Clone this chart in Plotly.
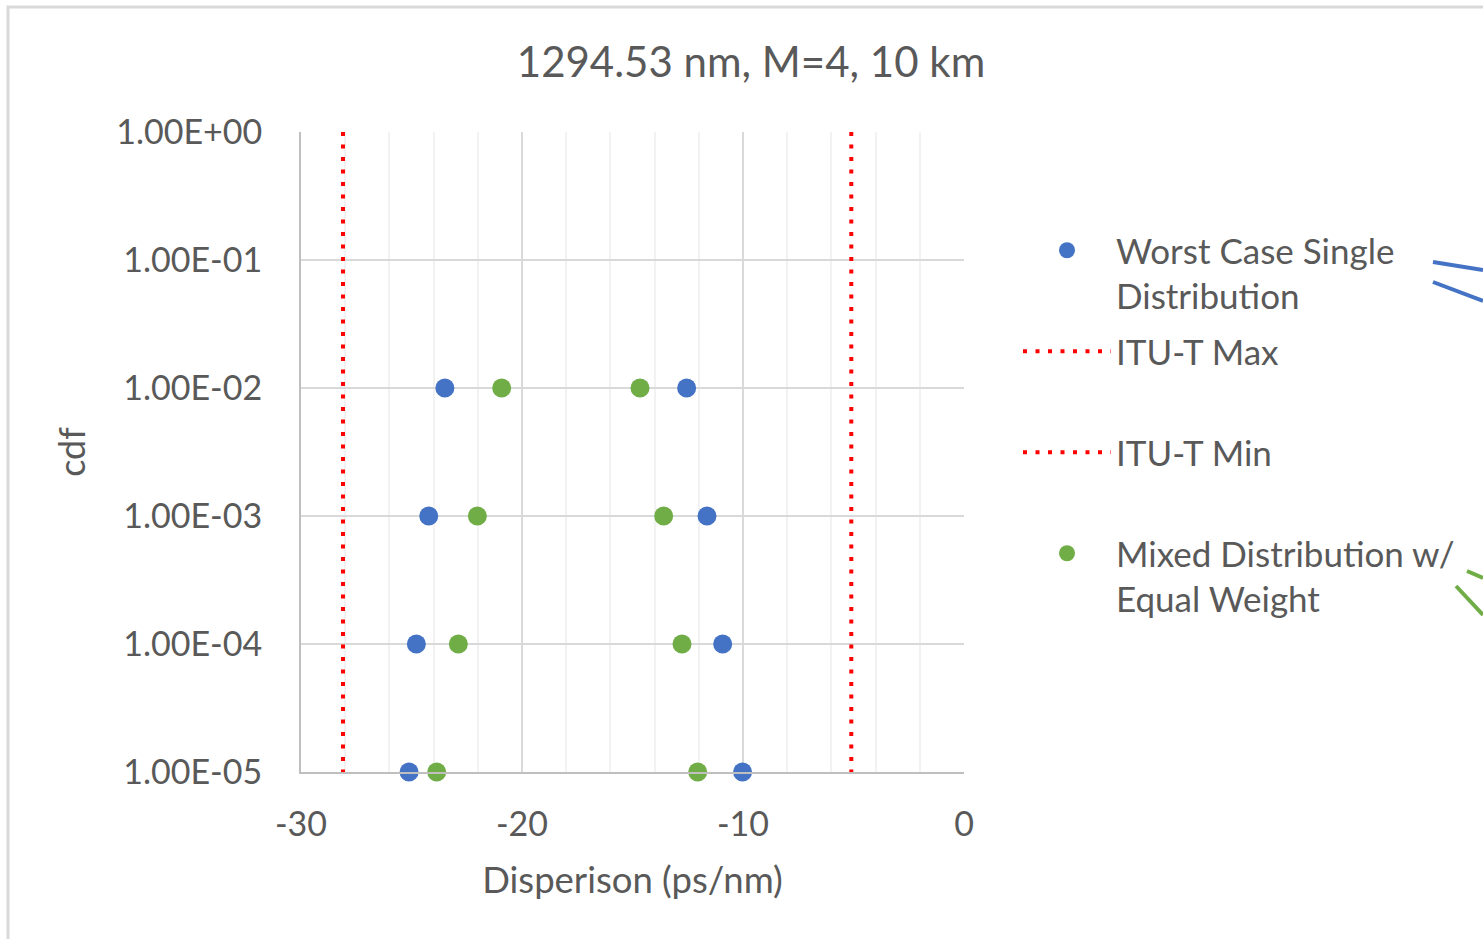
import plotly.graph_objects as go

# ---- data ----
cdf_levels = [1e-2, 1e-3, 1e-4, 1e-5]
worst_low = [-23.49, -24.22, -24.78, -25.11]
worst_high = [-12.55, -11.63, -10.92, -10.02]
mixed_low = [-20.92, -22.02, -22.88, -23.86]
mixed_high = [-14.66, -13.59, -12.76, -12.05]
itu_max = -5.1
itu_min = -28.1
itu_cdf_span = [1.0, 1e-5]

y_tickvals = [1, 1e-1, 1e-2, 1e-3, 1e-4, 1e-5]
y_ticktext = ["1.00E+00", "1.00E-01", "1.00E-02", "1.00E-03", "1.00E-04", "1.00E-05"]
x_tickvals = [-30, -20, -10, 0]

BLUE = "#4472C4"
GREEN = "#70AD47"
RED = "#FF0000"
TXT = "#595959"
FONT = "Lato"

fig = go.Figure()

fig.add_trace(go.Scatter(
    x=worst_low + worst_high, y=cdf_levels + cdf_levels, mode="markers",
    name="Worst Case Single<br>Distribution", legendgroup="a", cliponaxis=False,
    marker=dict(color=BLUE, size=19),
))
fig.add_trace(go.Scatter(
    x=[itu_max, itu_max], y=itu_cdf_span, mode="lines",
    name="ITU-T Max<br> ", legendgroup="b", cliponaxis=False,
    line=dict(color=RED, width=4, dash="4px,8.5px"),
))
fig.add_trace(go.Scatter(
    x=[itu_min, itu_min], y=itu_cdf_span, mode="lines",
    name="ITU-T Min<br> ", legendgroup="c", cliponaxis=False,
    line=dict(color=RED, width=4, dash="4px,8.5px"),
))
fig.add_trace(go.Scatter(
    x=mixed_low + mixed_high, y=cdf_levels + cdf_levels, mode="markers",
    name="Mixed Distribution w/<br>Equal Weight", legendgroup="d", cliponaxis=False,
    marker=dict(color=GREEN, size=19),
))

# outer chart frame and cut-off callout lines (decoration)
def px_x(p):
    return (p - 301) / 663.0

def px_y(p):
    return (772 - p) / 640.0

shapes = [
    dict(type="rect", xref="paper", yref="paper",
         x0=px_x(8), x1=px_x(1500), y0=px_y(7), y1=px_y(960),
         line=dict(color="#D9D9D9", width=3), layer="below"),
    dict(type="line", xref="paper", yref="paper", x0=px_x(1433), y0=px_y(262),
         x1=px_x(1483), y1=px_y(270), line=dict(color=BLUE, width=4)),
    dict(type="line", xref="paper", yref="paper", x0=px_x(1433), y0=px_y(282),
         x1=px_x(1483), y1=px_y(301), line=dict(color=BLUE, width=4)),
    dict(type="line", xref="paper", yref="paper", x0=px_x(1467), y0=px_y(571),
         x1=px_x(1483), y1=px_y(578), line=dict(color=GREEN, width=4)),
    dict(type="line", xref="paper", yref="paper", x0=px_x(1456), y0=px_y(586),
         x1=px_x(1483), y1=px_y(615), line=dict(color=GREEN, width=4)),
]

fig.update_layout(
    width=1483, height=939,
    margin=dict(l=301, r=519, t=132, b=167),
    paper_bgcolor="white", plot_bgcolor="white",
    font=dict(family=FONT, size=34, color=TXT),
    title=dict(text="1294.53 nm, M=4, 10 km", x=(751) / 1483, xanchor="center",
               y=1 - 62 / 939, yanchor="middle", font=dict(size=42, color=TXT)),
    showlegend=True,
    legend=dict(x=px_x(1018), y=px_y(221), xanchor="left", yanchor="top",
                valign="top", tracegroupgap=7, itemwidth=88,
                font=dict(size=35, color=TXT), bgcolor="rgba(0,0,0,0)"),
    shapes=shapes,
)

fig.update_xaxes(
    range=[-30, 0], tickvals=x_tickvals, ticktext=[str(v) for v in x_tickvals],
    showgrid=True, gridcolor="#D9D9D9", gridwidth=2,
    minor=dict(dtick=2, showgrid=True, gridcolor="#F2F2F2", gridwidth=2),
    showline=True, linecolor="#BFBFBF", linewidth=2,
    ticks="", ticklabelstandoff=21, zeroline=False,
    title=dict(text="Disperison (ps/nm)", standoff=26, font=dict(size=36.5, color=TXT)),
)
fig.update_yaxes(
    type="log", range=[-5, 0], tickvals=y_tickvals, ticktext=y_ticktext,
    showgrid=True, gridcolor="#D9D9D9", gridwidth=2,
    showline=True, linecolor="#BFBFBF", linewidth=2,
    ticks="", ticklabelstandoff=30, zeroline=False,
    title=dict(text="cdf", standoff=20, font=dict(size=36, color=TXT)),
)

fig.write_html("out.html")
